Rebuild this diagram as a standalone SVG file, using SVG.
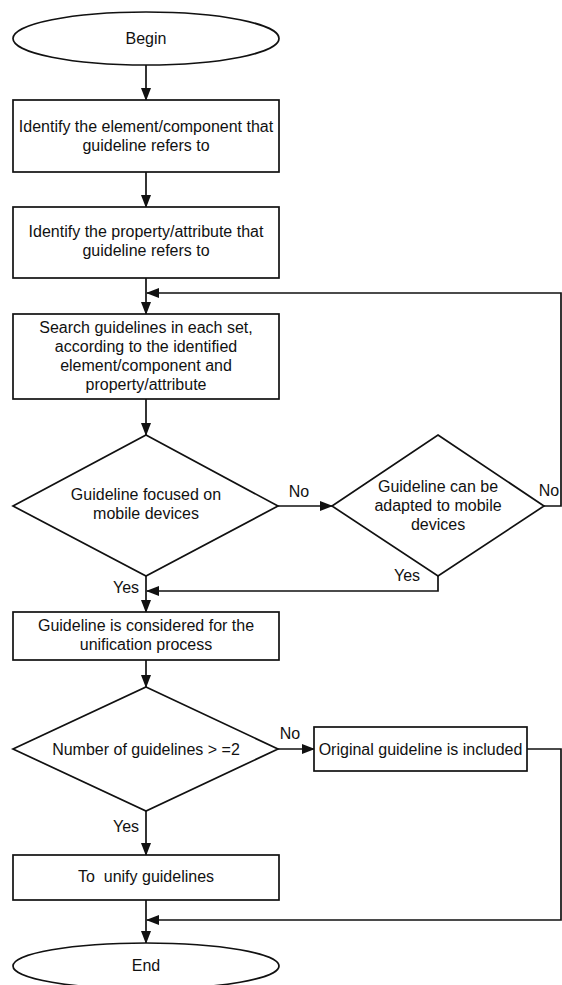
<svg xmlns="http://www.w3.org/2000/svg" width="562" height="985" viewBox="0 0 562 985">
<style>
.s{fill:#fff;stroke:#111;stroke-width:1.7}
.t{font-family:"Liberation Sans",Arial,sans-serif;font-size:16px;fill:#111;text-anchor:middle}
.c{fill:none;stroke:#111;stroke-width:1.7}
</style>
<defs>
<marker id="ah" markerWidth="13" markerHeight="10" refX="12" refY="5" orient="auto" markerUnits="userSpaceOnUse">
<path d="M0,0 L13,5 L0,10 z" fill="#111"/>
</marker>
</defs>
<rect width="562" height="985" fill="#fff"/>
<g id="connectors">
<line class="c" x1="146" y1="65" x2="146" y2="100" marker-end="url(#ah)"/>
<line class="c" x1="146" y1="172" x2="146" y2="207" marker-end="url(#ah)"/>
<line class="c" x1="146" y1="278" x2="146" y2="314" marker-end="url(#ah)"/>
<line class="c" x1="146" y1="399" x2="146" y2="435" marker-end="url(#ah)"/>
<line class="c" x1="278" y1="506" x2="332" y2="506" marker-end="url(#ah)"/>
<polyline class="c" points="544,506 561,506 561,293 147,293" marker-end="url(#ah)"/>
<polyline class="c" points="438,576 438,591 147,591" marker-end="url(#ah)"/>
<line class="c" x1="146" y1="576" x2="146" y2="612" marker-end="url(#ah)"/>
<line class="c" x1="146" y1="660" x2="146" y2="687" marker-end="url(#ah)"/>
<line class="c" x1="278" y1="749" x2="314" y2="749" marker-end="url(#ah)"/>
<polyline class="c" points="527,749 561,749 561,920 147,920" marker-end="url(#ah)"/>
<line class="c" x1="146" y1="811" x2="146" y2="855" marker-end="url(#ah)"/>
<line class="c" x1="146" y1="900" x2="146" y2="943" marker-end="url(#ah)"/>
<text class="t" x="299" y="497">No</text>
<text class="t" x="549" y="496">No</text>
<text class="t" x="407" y="581">Yes</text>
<text class="t" x="126" y="593">Yes</text>
<text class="t" x="290" y="739">No</text>
<text class="t" x="126" y="832">Yes</text>
</g>
<g id="begin">
<ellipse class="s" cx="146" cy="38.5" rx="133" ry="26.5"/>
<text class="t" x="146" y="44">Begin</text>
</g>
<g id="identify-element">
<rect class="s" x="13" y="100" width="266" height="72"/>
<text class="t" x="146" y="131.5">Identify the element/component that</text>
<text class="t" x="146" y="151">guideline refers to</text>
</g>
<g id="identify-property">
<rect class="s" x="13" y="207" width="266" height="71"/>
<text class="t" x="146" y="236.5">Identify the property/attribute that</text>
<text class="t" x="146" y="256">guideline refers to</text>
</g>
<g id="search">
<rect class="s" x="13" y="314" width="266" height="85"/>
<text class="t" x="146" y="332.5">Search guidelines in each set,</text>
<text class="t" x="146" y="351.5">according to the identified</text>
<text class="t" x="146" y="370.5">element/component and</text>
<text class="t" x="146" y="389.5">property/attribute</text>
</g>
<g id="focused">
<polygon class="s" points="146,435 278,506 146,576 13,506"/>
<text class="t" x="146" y="499.5">Guideline focused on</text>
<text class="t" x="146" y="518.5">mobile devices</text>
</g>
<g id="adapted">
<polygon class="s" points="438,435 544,506 438,576 332,506"/>
<text class="t" x="438" y="491.5">Guideline can be</text>
<text class="t" x="438" y="510.5">adapted to mobile</text>
<text class="t" x="438" y="529.5">devices</text>
</g>
<g id="considered">
<rect class="s" x="13" y="612" width="266" height="48"/>
<text class="t" x="146" y="630.5">Guideline is considered for the</text>
<text class="t" x="146" y="649.5">unification process</text>
</g>
<g id="number">
<polygon class="s" points="146,687 278,749 146,811 13,749"/>
<text class="t" x="146" y="754.5">Number of guidelines &gt; =2</text>
</g>
<g id="original">
<rect class="s" x="314" y="727" width="213" height="44"/>
<text class="t" x="420.5" y="754.5">Original guideline is included</text>
</g>
<g id="unify">
<rect class="s" x="13" y="855" width="266" height="45"/>
<text class="t" x="146" y="882" xml:space="preserve">To  unify guidelines</text>
</g>
<g id="end">
<ellipse class="s" cx="146" cy="966" rx="133" ry="23"/>
<text class="t" x="146" y="971">End</text>
</g>
</svg>
